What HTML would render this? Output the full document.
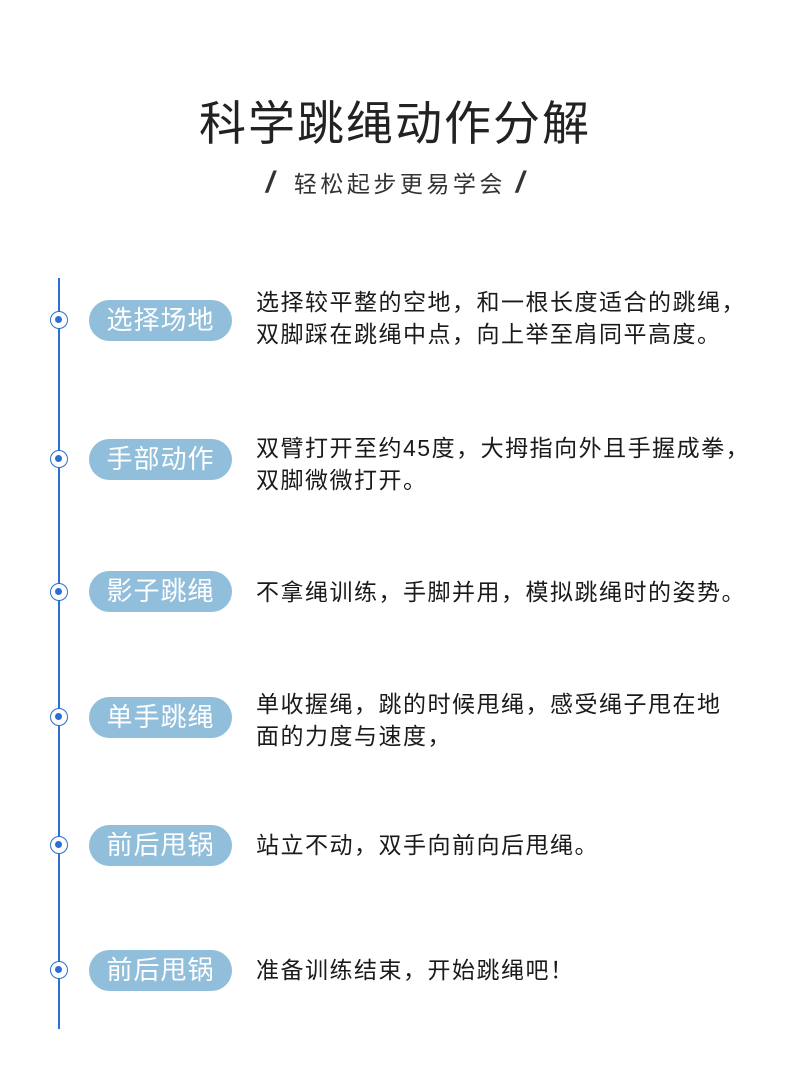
<!DOCTYPE html>
<html><head><meta charset="utf-8"><style>
body{margin:0;width:790px;height:1091px;background:#fff;position:relative;overflow:hidden;font-family:"Liberation Sans","Noto Sans CJK SC",sans-serif;color:#222}
.t{position:absolute;left:0;width:790px;text-align:center;top:94px;font-size:47px;line-height:60px;letter-spacing:2px;color:#222}
.s{position:absolute;left:0;width:790px;text-align:center;top:166px;font-size:23px;line-height:34px;letter-spacing:3.5px;color:#333}
.sl{font-size:30px;font-style:italic;font-weight:bold;letter-spacing:0}
.line{position:absolute;left:58px;top:278px;width:2px;height:751px;background:#2a6fd1}
.c{position:absolute;left:50px;border:1.5px solid #2a6fd1;border-radius:50%;background:#fff;box-sizing:border-box;width:18px;height:18px}
.c::after{content:"";position:absolute;left:4px;top:4px;width:7px;height:7px;border-radius:50%;background:#2a6fd1}
.p{position:absolute;left:89px;width:143px;height:41px;border-radius:21px;background:#90bedb;color:#fff;font-size:26px;letter-spacing:1px;line-height:41px;text-align:center}
.x{position:absolute;left:256px;font-size:23px;letter-spacing:1.5px;line-height:32px;color:#1a1a1a;white-space:nowrap}
</style></head><body>
<div class="t">科学跳绳动作分解</div>
<div class="s"><span class="sl">/</span>&nbsp; 轻松起步更易学会 <span class="sl">/</span></div>
<div class="line"></div>
<div class="c" style="top:311px"></div><div class="p" style="top:300px">选择场地</div>
<div class="x" style="top:286px">选择较平整的空地，和一根长度适合的跳绳，<br>双脚踩在跳绳中点，向上举至肩同平高度。</div>
<div class="c" style="top:450px"></div><div class="p" style="top:439px">手部动作</div>
<div class="x" style="top:432px">双臂打开至约45度，大拇指向外且手握成拳，<br>双脚微微打开。</div>
<div class="c" style="top:583px"></div><div class="p" style="top:571px">影子跳绳</div>
<div class="x" style="top:576px">不拿绳训练，手脚并用，模拟跳绳时的姿势。</div>
<div class="c" style="top:708px"></div><div class="p" style="top:697px">单手跳绳</div>
<div class="x" style="top:688px">单收握绳，跳的时候甩绳，感受绳子甩在地<br>面的力度与速度，</div>
<div class="c" style="top:836px"></div><div class="p" style="top:825px">前后甩锅</div>
<div class="x" style="top:829px">站立不动，双手向前向后甩绳。</div>
<div class="c" style="top:961px"></div><div class="p" style="top:950px">前后甩锅</div>
<div class="x" style="top:954px">准备训练结束，开始跳绳吧！</div>
</body></html>
